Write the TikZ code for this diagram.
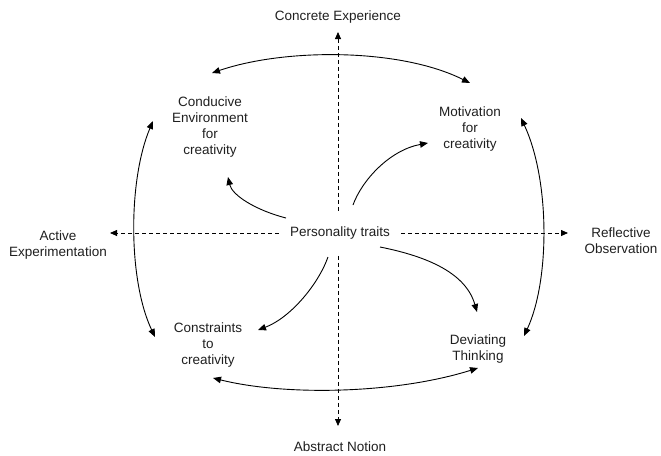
\documentclass[tikz,border=0pt]{standalone}
\usepackage{fontspec}
\setmainfont{Liberation Sans}
\usetikzlibrary{arrows.meta}
\begin{document}
\begin{tikzpicture}[x=1pt,y=-1pt,
  lbl/.style={font=\fontsize{13.5}{16}\selectfont, align=center, text=black!88, inner sep=0pt},
  conn/.style={line width=0.9pt, -{Triangle[length=8pt,width=6.5pt]}},
  both/.style={line width=0.9pt, {Triangle[length=8pt,width=6.5pt]}-{Triangle[length=8pt,width=6.5pt]}},
  axis/.style={line width=0.8pt, dash pattern=on 4pt off 3pt, -{Triangle[length=7pt,width=6pt]}},
  axisboth/.style={line width=0.8pt, dash pattern=on 4pt off 3pt, {Triangle[length=7pt,width=6pt]}-{Triangle[length=7pt,width=6pt]}}]
\useasboundingbox (0,0) rectangle (661,455);
% outer labels
\node[lbl] (ce) at (338,17) {Concrete Experience};
\node[lbl] (an) at (340,447) {Abstract Notion};
\node[lbl] (ae) at (58,245.5) {Active\\Experimentation};
\node[lbl] (ro) at (621,240.5) {Reflective\\Observation};
% quadrant labels
\node[lbl] (env) at (210,127.5) {Conducive\\Environment\\for\\creativity};
\node[lbl] (mot) at (470,129) {Motivation\\for\\creativity};
\node[lbl] (con) at (208,345.5) {Constraints\\to\\creativity};
\node[lbl] (dev) at (478,349.5) {Deviating\\Thinking};
% vertical axis
\coordinate (vt) at (338,32);
\coordinate (vb) at (338,426);
\draw[axisboth] (vt) -- (vb);
% centre
\node[lbl, fill=white, inner xsep=11pt, inner ysep=14pt] (pt) at (340,233) {Personality traits};
\coordinate (hl) at (110,233);
\coordinate (hr) at (568,233);
\draw[axis] (pt.west) -- (hl);
\draw[axis] (pt.east) -- (hr);
% outer cycle
\coordinate (t1) at (212,73);
\coordinate (t2) at (470,83);
\coordinate (r1) at (521,118);
\coordinate (r2) at (524,336);
\coordinate (b1) at (213,378);
\coordinate (b2) at (478,368);
\coordinate (l1) at (153,121);
\coordinate (l2) at (155,337);
\draw[both] (t1) .. controls (285,48) and (400,48) .. (t2);
\draw[both] (b1) .. controls (285,396) and (395,394) .. (b2);
\draw[both] (l1) .. controls (128,180) and (128,280) .. (l2);
\draw[both] (r1) .. controls (550,180) and (550,280) .. (r2);
% centre arrows
\coordinate (s1) at (286,218);
\coordinate (e1) at (228,177);
\coordinate (s2) at (353,205);
\coordinate (e2) at (428,143);
\coordinate (s3) at (328,257);
\coordinate (e3) at (258,330);
\coordinate (s4) at (380,247);
\coordinate (e4) at (477,312);
\draw[conn] (s1) .. controls (255,210) and (232,195) .. (e1);
\draw[conn] (s2) .. controls (362,180) and (390,150) .. (e2);
\draw[conn] (s3) .. controls (318,285) and (290,318) .. (e3);
\draw[conn] (s4) .. controls (420,255) and (465,270) .. (e4);
\end{tikzpicture}
\end{document}
